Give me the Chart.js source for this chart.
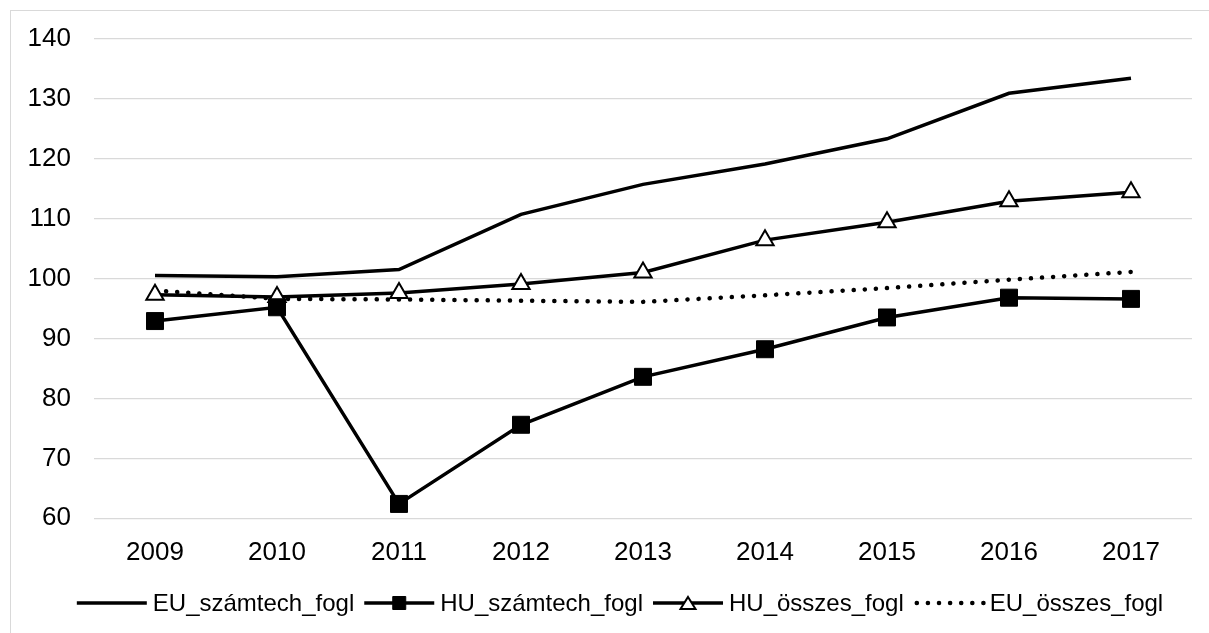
<!DOCTYPE html>
<html>
<head>
<meta charset="utf-8">
<script src="https://cdn.jsdelivr.net/npm/chart.js@4/dist/chart.umd.min.js"></script>
<style>
  html, body { margin: 0; padding: 0; background: #ffffff; }
  #wrap { position: relative; width: 1209px; height: 633px; }
  canvas { display: block; }
</style>
</head>
<body>
<div id="wrap"><canvas id="c" width="1209" height="633"></canvas></div>
<script>
// ---- data ----
const categories = ['2009', '2010', '2011', '2012', '2013', '2014', '2015', '2016', '2017'];
const euSzamtechFogl = [100.5, 100.3, 101.5, 110.7, 115.7, 119.1, 123.3, 130.9, 133.4];
const huSzamtechFogl = [92.9, 95.2, 62.4, 75.6, 83.6, 88.2, 93.5, 96.8, 96.6];
const huOsszesFogl   = [97.3, 96.9, 97.6, 99.1, 101.0, 106.4, 109.4, 112.9, 114.4];
const euOsszesFogl   = [98.0, 96.6, 96.5, 96.3, 96.1, 97.2, 98.4, 99.8, 101.1];
const seriesLabels = ['EU_számtech_fogl', 'HU_számtech_fogl', 'HU_összes_fogl', 'EU_összes_fogl'];
const yMin = 60, yMax = 140, yStep = 10;

const FONT = '"Liberation Sans", Arial, sans-serif';

function drawMarker(ctx, style, size, x, y, bw) {
  ctx.save();
  ctx.setLineDash([]);
  ctx.lineWidth = bw;
  ctx.strokeStyle = '#000';
  ctx.beginPath();
  if (style === 'rect') {
    const s = size / 2;
    ctx.rect(x - s, y - s, 2 * s, 2 * s);
    ctx.fillStyle = '#000';
  } else if (style === 'triangle') {
    const hw = size / 2, h = size * 0.8;
    ctx.moveTo(x, y - h / 2);
    ctx.lineTo(x + hw, y + h / 2);
    ctx.lineTo(x - hw, y + h / 2);
    ctx.closePath();
    ctx.fillStyle = '#fff';
  }
  ctx.fill();
  ctx.stroke();
  ctx.restore();
}

const bgBorderPlugin = {
  id: 'bgBorder',
  beforeDraw(chart) {
    const ctx = chart.ctx;
    ctx.save();
    ctx.fillStyle = '#fff';
    ctx.fillRect(0, 0, chart.width, chart.height);
    ctx.strokeStyle = '#d9d9d9';
    ctx.lineWidth = 1;
    ctx.strokeRect(10.5, 10.5, 1400, 1400);
    ctx.restore();
  }
};

const legendPlugin = {
  id: 'customLegend',
  afterDraw(chart) {
    const ctx = chart.ctx;
    ctx.save();
    ctx.font = '24px ' + FONT;
    ctx.textBaseline = 'middle';
    ctx.fillStyle = '#000';
    const lineLen = 70, gapText = 6, gapItem = 10;
    const items = chart.data.datasets.map(ds => ({ ds, w: ctx.measureText(ds.label).width }));
    const total = items.reduce((s, it) => s + lineLen + gapText + it.w, 0) + gapItem * (items.length - 1);
    let x = 620 - total / 2;
    const y = 603;
    items.forEach(({ ds, w }) => {
      ctx.save();
      ctx.beginPath();
      ctx.strokeStyle = ds.borderColor;
      ctx.lineWidth = ds.borderWidth;
      ctx.lineCap = ds.borderCapStyle || 'butt';
      ctx.setLineDash(ds.borderDash || []);
      ctx.moveTo(x + (ds.borderDash ? 3 : 0), y);
      ctx.lineTo(x + lineLen, y);
      ctx.stroke();
      ctx.restore();
      if (ds.pointRadius > 0) {
        drawMarker(ctx, ds.pointStyle, ds.pointStyle === 'rect' ? 13 : 15, x + lineLen / 2, y, ds.pointBorderWidth);
      }
      ctx.fillText(ds.label, x + lineLen + gapText, y + 1);
      x += lineLen + gapText + w + gapItem;
    });
    ctx.restore();
  }
};

new Chart(document.getElementById('c'), {
  type: 'line',
  data: {
    labels: categories,
    datasets: [
      {
        label: seriesLabels[0], data: euSzamtechFogl,
        borderColor: '#000', borderWidth: 3.5, pointRadius: 0, pointHoverRadius: 0,
        tension: 0, fill: false
      },
      {
        label: seriesLabels[1], data: huSzamtechFogl,
        borderColor: '#000', borderWidth: 3.5, pointStyle: 'rect', pointRadius: 12,
        pointBackgroundColor: '#000', pointBorderColor: '#000', pointBorderWidth: 1,
        tension: 0, fill: false
      },
      {
        label: seriesLabels[2], data: huOsszesFogl,
        borderColor: '#000', borderWidth: 3.5, pointStyle: 'triangle', pointRadius: 10,
        pointBackgroundColor: '#fff', pointBorderColor: '#000', pointBorderWidth: 2,
        tension: 0, fill: false
      },
      {
        label: seriesLabels[3], data: euOsszesFogl,
        borderColor: '#000', borderWidth: 4.5, borderDash: [0.1, 11], borderCapStyle: 'round',
        pointRadius: 0, pointHoverRadius: 0, tension: 0, fill: false
      }
    ]
  },
  options: {
    responsive: false,
    animation: false,
    events: [],
    layout: { padding: { left: 0, right: 17, top: 38.7, bottom: 0 } },
    plugins: { legend: { display: false }, tooltip: { enabled: false }, title: { display: false } },
    scales: {
      x: {
        offset: true,
        grid: { display: false, drawTicks: false },
        border: { display: false },
        ticks: { color: '#000', font: { family: FONT, size: 26 }, padding: 19, maxRotation: 0 },
        afterFit(scale) { scale.height = 633 - 518.3; }
      },
      y: {
        min: yMin, max: yMax,
        grid: { color: '#d9d9d9', lineWidth: 1.3, drawTicks: false },
        border: { display: false },
        ticks: { stepSize: yStep, color: '#000', font: { family: FONT, size: 26 }, padding: 23 },
        afterFit(scale) { scale.width = 94; }
      }
    }
  },
  plugins: [bgBorderPlugin, legendPlugin]
});
</script>
</body>
</html>
